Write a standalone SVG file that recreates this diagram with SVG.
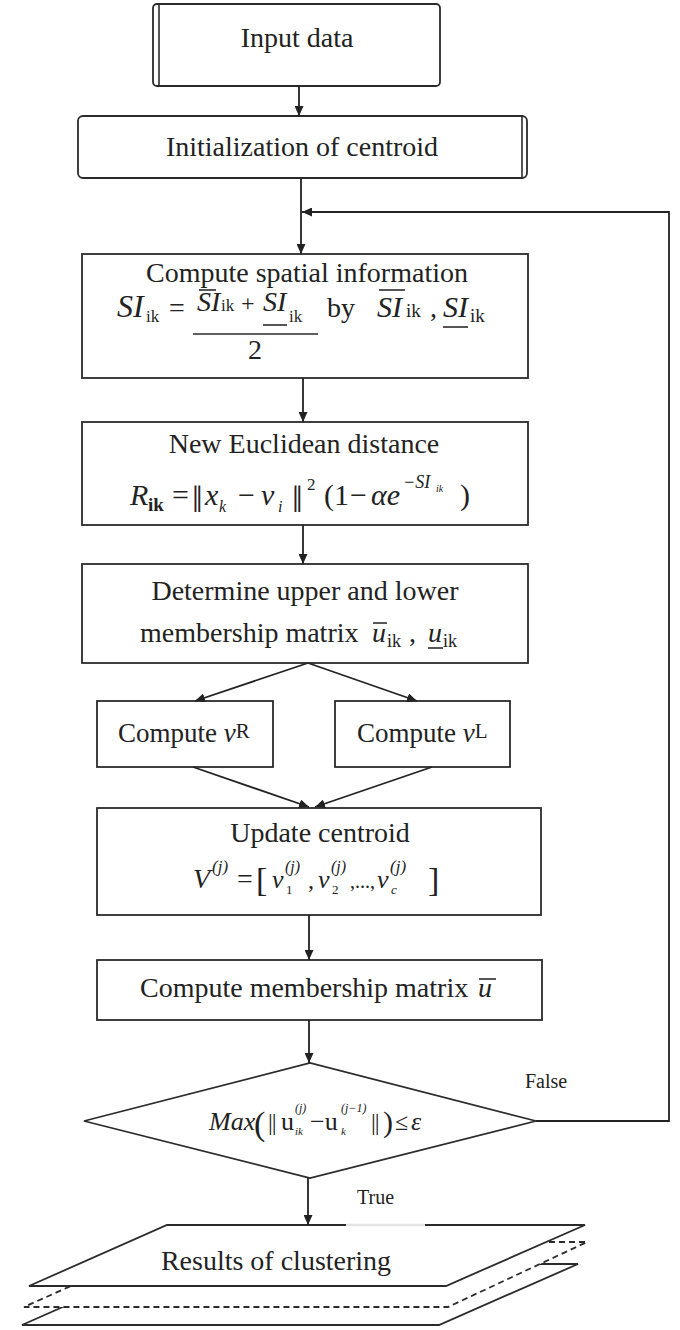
<svg xmlns="http://www.w3.org/2000/svg" width="680" height="1330" viewBox="0 0 680 1330">
<defs>
<marker id="ah" markerUnits="userSpaceOnUse" markerWidth="10" markerHeight="9" refX="10" refY="4.5" orient="auto">
<path d="M0,0 L10,4.5 L0,9 z" fill="#222"/>
</marker>
<style>
.box{fill:#fff;stroke:#2b2b2b;stroke-width:1.8}
.ln{fill:none;stroke:#2b2b2b;stroke-width:1.6}
.cn{fill:none;stroke:#222;stroke-width:1.8;marker-end:url(#ah)}
text{font-family:"Liberation Serif","Times New Roman",serif;fill:#222}
.t{font-size:28px}
.m{text-anchor:middle}
.i{font-style:italic}
.sm{font-size:17px}
.lab{font-size:20px}
</style>
</defs>
<rect width="680" height="1330" fill="#fff"/>

<g id="input">
<rect class="box" x="153" y="4" width="287" height="82" rx="4"/>
<line class="ln" x1="159" y1="5" x2="159" y2="85"/>
<text class="t m" x="297" y="47">Input data</text>
</g>

<g id="init">
<rect class="box" x="78" y="116" width="449" height="62" rx="5"/>
<line class="ln" x1="522" y1="117" x2="522" y2="177"/>
<text class="t m" x="302" y="156">Initialization of centroid</text>
</g>

<g id="spatial">
<rect class="box" x="82" y="254" width="446" height="124"/>
<text class="t m" x="307" y="282">Compute spatial information</text>
<text class="i" x="117" y="317" style="font-size:32px">SI</text>
<text class="sm" x="146" y="322">ik</text>
<text class="t" x="169" y="317">=</text>
<line class="ln" x1="193" y1="334" x2="318" y2="334"/>
<line class="ln" x1="199" y1="290" x2="216" y2="290"/>
<text class="t i" x="197" y="311">SI</text>
<text class="sm" x="221" y="311">ik</text>
<text x="241" y="311" style="font-size:24px">+</text>
<text class="t i" x="263" y="311">SI</text>
<line class="ln" x1="263" y1="325" x2="287" y2="325"/>
<text class="sm" x="289" y="322">ik</text>
<text class="t m" x="255" y="359">2</text>
<text class="t" x="327" y="317">by</text>
<line class="ln" x1="379" y1="290" x2="405" y2="290"/>
<text class="i" x="377" y="317" style="font-size:30px">SI</text>
<text x="406" y="317" style="font-size:19px">ik</text>
<text class="t" x="430" y="317">,</text>
<text class="i" x="443" y="317" style="font-size:30px">SI</text>
<line class="ln" x1="443" y1="327" x2="468" y2="327"/>
<text x="470" y="322" style="font-size:19px">ik</text>
</g>

<g id="euclid">
<rect class="box" x="82" y="422" width="446" height="103"/>
<text class="t m" x="304" y="453">New Euclidean distance</text>
<text class="t i" x="130" y="505" style="font-size:30px">R</text>
<text x="148" y="511" style="font-size:19px;font-weight:bold">ik</text>
<text class="t" x="172" y="505" style="font-size:30px">=</text>
<text x="192" y="512" style="font-size:38px">‖</text>
<text class="i" x="205" y="505" style="font-size:30px">x</text>
<text class="i" x="219" y="512" style="font-size:16px">k</text>
<text x="238" y="505" style="font-size:30px">−</text>
<text class="i" x="261" y="505" style="font-size:30px">v</text>
<text class="i" x="278" y="512" style="font-size:16px">i</text>
<text x="292" y="512" style="font-size:38px">‖</text>
<text x="307" y="490" style="font-size:17px">2</text>
<text x="324" y="505" style="font-size:30px">(1</text>
<text x="350" y="505" style="font-size:30px">−</text>
<text class="i" x="371" y="505" style="font-size:30px">αe</text>
<text class="i" x="403" y="488" style="font-size:18px">−SI</text>
<text class="i" x="436" y="492" style="font-size:10px">ik</text>
<text x="460" y="505" style="font-size:30px">)</text>
</g>

<g id="membership">
<rect class="box" x="82" y="564" width="446" height="99"/>
<text class="t m" x="305" y="600">Determine upper and lower</text>
<text class="t" x="140" y="642">membership matrix</text>
<line class="ln" x1="373" y1="623" x2="387" y2="623"/>
<text class="t i" x="372" y="642">u</text>
<text x="387" y="647" style="font-size:18px">ik</text>
<text class="t" x="409" y="642">,</text>
<text class="t i" x="428" y="642">u</text>
<line class="ln" x1="428" y1="648" x2="443" y2="648"/>
<text x="443" y="647" style="font-size:18px">ik</text>
</g>

<g id="computeR">
<rect class="box" x="97" y="701" width="176" height="66"/>
<text x="118" y="742" style="font-size:27px">Compute <tspan class="i">ν</tspan><tspan style="font-size:21px" dy="-4">R</tspan></text>
</g>

<g id="computeL">
<rect class="box" x="335" y="701" width="175" height="66"/>
<text x="357" y="742" style="font-size:27px">Compute <tspan class="i">ν</tspan><tspan style="font-size:21px" dy="-4">L</tspan></text>
</g>

<g id="update">
<rect class="box" x="97" y="808" width="444" height="107"/>
<text class="t m" x="320" y="842">Update centroid</text>
<text class="i" x="193" y="888" style="font-size:28px">V</text>
<text class="i" x="212" y="872" style="font-size:17px">(j)</text>
<text x="237" y="888" style="font-size:28px">=</text>
<text x="256" y="891" style="font-size:34px">[</text>
<text class="i" x="272" y="888" style="font-size:26px">v</text>
<text class="i" x="285" y="872" style="font-size:16px">(j)</text>
<text x="286" y="894" style="font-size:13px">1</text>
<text x="308" y="888" style="font-size:24px">,</text>
<text class="i" x="318" y="888" style="font-size:26px">v</text>
<text class="i" x="331" y="872" style="font-size:16px">(j)</text>
<text x="332" y="894" style="font-size:13px">2</text>
<text x="350" y="888" style="font-size:20px">,...,</text>
<text class="i" x="377" y="888" style="font-size:26px">v</text>
<text class="i" x="390" y="872" style="font-size:17px">(j)</text>
<text class="i" x="391" y="894" style="font-size:13px">c</text>
<text x="428" y="891" style="font-size:34px">]</text>
</g>

<g id="computeU">
<rect class="box" x="97" y="960" width="445" height="60"/>
<text class="t" x="140" y="997">Compute membership matrix</text>
<line class="ln" x1="479" y1="979" x2="496" y2="979"/>
<text class="t i" x="478" y="997">u</text>
</g>

<g id="decision">
<polygon class="box" points="84,1121 310,1063 536,1121 310,1178"/>
<text class="i" x="209" y="1130" style="font-size:26px">Max</text>
<text x="254" y="1135" style="font-size:34px">(</text>
<text x="268" y="1130" style="font-size:24px" letter-spacing="-1">||</text>
<text x="281" y="1130" style="font-size:26px">u</text>
<text class="i" x="295" y="1112" style="font-size:12px">(j)</text>
<text class="i" x="295" y="1135" style="font-size:11px">ik</text>
<text x="310" y="1130" style="font-size:26px">−u</text>
<text class="i" x="341" y="1112" style="font-size:12px">(j−1)</text>
<text class="i" x="341" y="1135" style="font-size:11px">k</text>
<text x="371" y="1130" style="font-size:24px" letter-spacing="-1">||</text>
<text x="383" y="1132" style="font-size:30px">)</text>
<text x="395" y="1130" style="font-size:24px">≤</text>
<text class="i" x="411" y="1130" style="font-size:26px">ε</text>
</g>

<g id="results">
<polygon class="box" points="160,1264 578,1264 439,1325 22,1325"/>
<polygon class="box" points="169,1242 587,1242 448,1307 24,1307" style="stroke-dasharray:6,4"/>
<polygon class="box" points="167,1225 585,1225 446,1286 29,1286"/>
<line x1="346" y1="1225" x2="425" y2="1225" stroke="#e4e4e4" stroke-width="2.5"/>
<text class="t m" x="276" y="1270">Results of clustering</text>
</g>

<g id="connectors">
<line class="cn" x1="299" y1="86" x2="299" y2="116"/>
<line class="cn" x1="301" y1="178" x2="301" y2="254"/>
<polyline class="cn" points="536,1121 669,1121 669,212 302,212"/>
<line class="cn" x1="303" y1="378" x2="303" y2="422"/>
<line class="cn" x1="303" y1="525" x2="303" y2="564"/>
<line class="cn" x1="308" y1="663" x2="195" y2="701"/>
<line class="cn" x1="308" y1="663" x2="417" y2="701"/>
<line class="cn" x1="193" y1="767" x2="309" y2="807"/>
<line class="cn" x1="432" y1="767" x2="315" y2="807"/>
<line class="cn" x1="309" y1="915" x2="309" y2="960"/>
<line class="cn" x1="309" y1="1020" x2="309" y2="1063"/>
<line class="cn" x1="308" y1="1178" x2="308" y2="1225"/>
<text class="lab" x="525" y="1088">False</text>
<text class="lab" x="357" y="1204">True</text>
</g>
</svg>
